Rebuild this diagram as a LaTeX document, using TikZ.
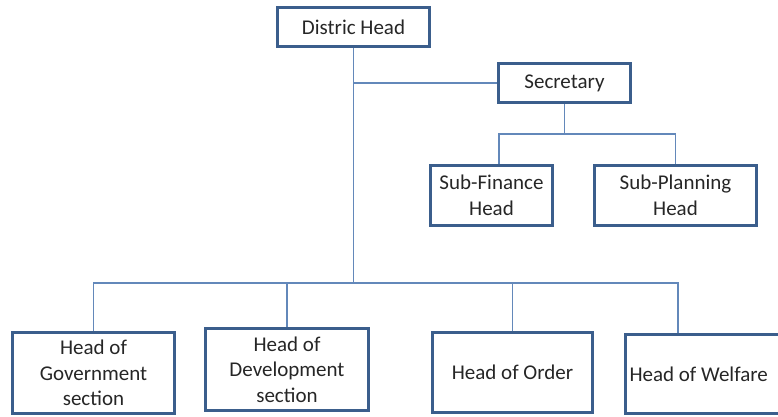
\documentclass[tikz,border=0pt]{standalone}
\usepackage{fontspec}
\setmainfont{Carlito}
\definecolor{boxblue}{HTML}{3B5E8C}
\definecolor{lineblue}{HTML}{6388BA}
\definecolor{inkgray}{HTML}{262626}

\begin{document}
\begin{tikzpicture}[x=1pt,y=-1pt,%
  post/.style={draw=boxblue,line width=3pt,rectangle,align=center,inner sep=0pt,
    text=inkgray,font=\fontsize{21}{25.5}\selectfont},
  link/.style={draw=lineblue,line width=1.3pt}
  ]
  \useasboundingbox (0,0) rectangle (778,417);
  % top of the chart
  \node[post,minimum width=152pt,minimum height=39pt] (dhead) at (353.5,27) {Distric Head};
  \node[post,minimum width=132pt,minimum height=39pt] (secr) at (564.5,83) {Secretary};
  \node[post,minimum width=122pt,minimum height=60pt] (subfin) at (491.5,195.5) {Sub-Finance\\Head};
  \node[post,minimum width=162pt,minimum height=60pt] (subplan) at (675.5,195.5) {Sub-Planning\\Head};
  % heads of section
  \node[post,minimum width=162pt,minimum height=81pt] (hgov) at (93.5,373) {Head of\\Government\\section};
  \node[post,minimum width=163pt,minimum height=82pt] (hdev) at (287,369.5) {Head of\\Development\\section};
  \node[post,minimum width=160pt,minimum height=80pt] (hord) at (512.5,372.5) {Head of Order};
  \node[post,minimum height=79pt,text width=152pt,inner xsep=4pt,align=flush left] (hwelf) at (705.5,374) {Head of Welfare};
  \coordinate (bar) at (353.5,283);
  \coordinate (subbar) at (564.5,134);
  % connectors
  \draw[link] (dhead.south) -- (bar);
  \draw[link] (secr.west) -- (secr.west -| dhead.south);
  \draw[link] (secr.south) -- (subbar);
  \draw[link] ([xshift=70pt]subfin.north west) |- (subbar) -| (subplan.north);
  \draw[link] (hgov.north) |- (bar) -| ([xshift=54pt]hwelf.north west);
  \draw[link] (hdev.north) -- (hdev.north |- bar);
  \draw[link] (hord.north) -- (hord.north |- bar);
\end{tikzpicture}
\end{document}
